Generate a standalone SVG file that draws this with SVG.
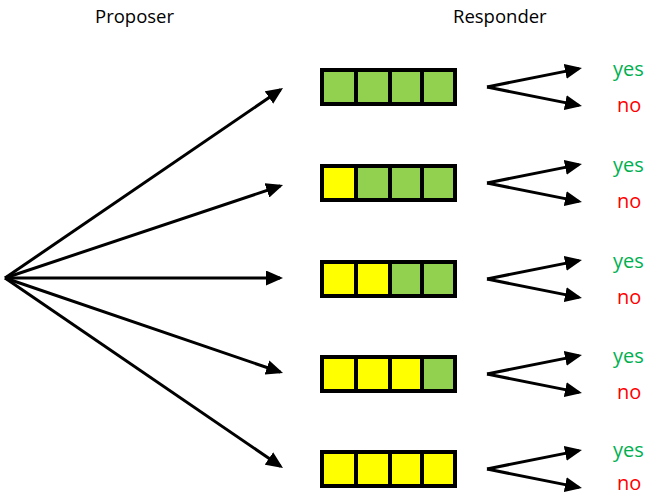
<svg xmlns="http://www.w3.org/2000/svg" width="646" height="497" viewBox="0 0 646 497">
<defs>
<marker id="ah" markerUnits="userSpaceOnUse" markerWidth="18" markerHeight="15" refX="14" refY="7.5" orient="auto">
<path d="M0,0 L17,7.5 L0,15 z" fill="#000"/>
</marker>
<style>
.t{font-family:"Open Sans","Liberation Sans",sans-serif;font-size:18.5px;fill:#000}
.yes{font-family:"Open Sans","Liberation Sans",sans-serif;font-size:20px;fill:#00B050}
.no{font-family:"Open Sans","Liberation Sans",sans-serif;font-size:20px;fill:#FF0000}
.c{stroke:#000;stroke-width:3;fill:none;marker-end:url(#ah)}
.g{fill:#92D050;stroke:#000;stroke-width:4}
.y{fill:#FFFF00;stroke:#000;stroke-width:4}
</style>
</defs>
<rect width="646" height="497" fill="#fff"/>
<text class="t" x="95" y="23">Proposer</text>
<text class="t" x="453" y="23">Responder</text>
<g id="connectors">
<line class="c" x1="5" y1="278" x2="280.5" y2="89.7"/>
<line class="c" x1="5" y1="278" x2="280.2" y2="186"/>
<line class="c" x1="5" y1="278" x2="280" y2="278"/>
<line class="c" x1="5" y1="278" x2="280.2" y2="372"/>
<line class="c" x1="5" y1="278" x2="280.5" y2="466.3"/>
<line class="c" x1="487" y1="87" x2="579" y2="68.6"/>
<line class="c" x1="487" y1="87" x2="579" y2="105.4"/>
<line class="c" x1="487" y1="183" x2="579" y2="164.6"/>
<line class="c" x1="487" y1="183" x2="579" y2="201.4"/>
<line class="c" x1="487" y1="279" x2="579" y2="260.6"/>
<line class="c" x1="487" y1="279" x2="579" y2="297.4"/>
<line class="c" x1="487" y1="374" x2="579" y2="355.6"/>
<line class="c" x1="487" y1="374" x2="579" y2="392.4"/>
<line class="c" x1="487" y1="469" x2="579" y2="450.6"/>
<line class="c" x1="487" y1="469" x2="579" y2="487.4"/>
</g>
<g id="offer1">
<rect class="g" x="322" y="70" width="34" height="34"/><rect class="g" x="356" y="70" width="34" height="34"/><rect class="g" x="390" y="70" width="32" height="34"/><rect class="g" x="422" y="70" width="33" height="34"/>
</g>
<g id="offer2">
<rect class="y" x="322" y="166" width="34" height="34"/><rect class="g" x="356" y="166" width="34" height="34"/><rect class="g" x="390" y="166" width="32" height="34"/><rect class="g" x="422" y="166" width="33" height="34"/>
</g>
<g id="offer3">
<rect class="y" x="322" y="262" width="34" height="34"/><rect class="y" x="356" y="262" width="34" height="34"/><rect class="g" x="390" y="262" width="32" height="34"/><rect class="g" x="422" y="262" width="33" height="34"/>
</g>
<g id="offer4">
<rect class="y" x="322" y="357" width="34" height="34"/><rect class="y" x="356" y="357" width="34" height="34"/><rect class="y" x="390" y="357" width="32" height="34"/><rect class="g" x="422" y="357" width="33" height="34"/>
</g>
<g id="offer5">
<rect class="y" x="322" y="452" width="34" height="34"/><rect class="y" x="356" y="452" width="34" height="34"/><rect class="y" x="390" y="452" width="32" height="34"/><rect class="y" x="422" y="452" width="33" height="34"/>
</g>
<g id="answers1"><text class="yes" x="613" y="76">yes</text><text class="no" x="617" y="112">no</text></g>
<g id="answers2"><text class="yes" x="613" y="172">yes</text><text class="no" x="617" y="208">no</text></g>
<g id="answers3"><text class="yes" x="613" y="268">yes</text><text class="no" x="617" y="304">no</text></g>
<g id="answers4"><text class="yes" x="613" y="363">yes</text><text class="no" x="617" y="399">no</text></g>
<g id="answers5"><text class="yes" x="613" y="457">yes</text><text class="no" x="617" y="490">no</text></g>
</svg>
